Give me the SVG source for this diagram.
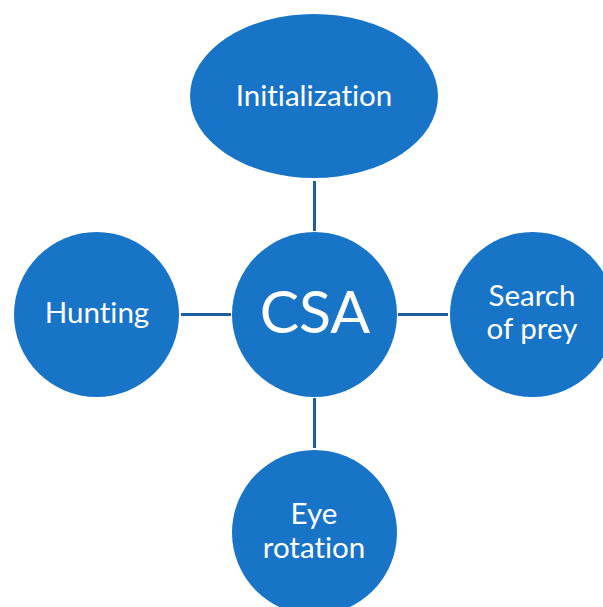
<svg xmlns="http://www.w3.org/2000/svg" width="603" height="607" viewBox="0 0 603 607">
<style>
.node{fill:#1874C7;}
.lbl{fill:#FFFFFF;font-family:Lato,"Open Sans","Liberation Sans",sans-serif;font-size:29.5px;text-anchor:middle;font-variant-ligatures:none;}
.big{font-size:59px;}
.conn{stroke:#1F5E9E;stroke-width:3;fill:none;}
</style>
<rect width="603" height="607" fill="#FFFFFF"/>
<g id="connectors">
<line class="conn" x1="314.5" y1="181" x2="314.5" y2="231"/>
<line class="conn" x1="181" y1="314.5" x2="231" y2="314.5"/>
<line class="conn" x1="398" y1="314.5" x2="448" y2="314.5"/>
<line class="conn" x1="314.5" y1="398" x2="314.5" y2="448"/>
</g>
<g id="node-csa">
<circle class="node" cx="314.5" cy="314.5" r="82.5"/>
<text class="lbl big" x="315" y="333">CSA</text>
</g>
<g id="node-initialization">
<ellipse class="node" cx="314" cy="96" rx="124" ry="82"/>
<text class="lbl" x="314" y="106">Initialization</text>
</g>
<g id="node-hunting">
<circle class="node" cx="96.5" cy="314.5" r="82.5"/>
<text class="lbl" x="97" y="323">Hunting</text>
</g>
<g id="node-search">
<circle class="node" cx="532.5" cy="314.5" r="82.5"/>
<text class="lbl" x="532" y="306">Search</text>
<text class="lbl" x="532" y="339">of prey</text>
</g>
<g id="node-eye">
<circle class="node" cx="314.5" cy="532.5" r="82.5"/>
<text class="lbl" x="314" y="524">Eye</text>
<text class="lbl" x="314" y="558">rotation</text>
</g>
</svg>
